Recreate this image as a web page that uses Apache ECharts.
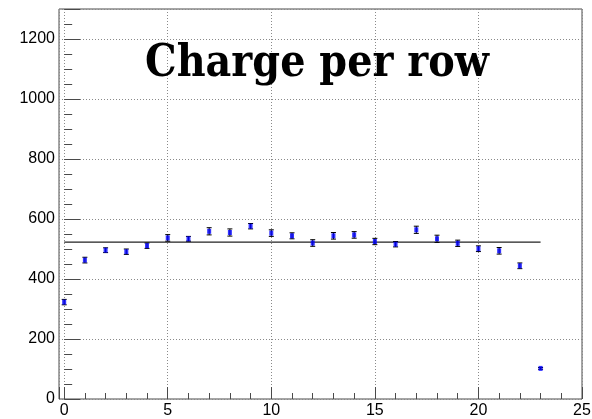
<!DOCTYPE html>
<html>
<head>
<meta charset="utf-8">
<script src="https://cdn.jsdelivr.net/npm/echarts@6/dist/echarts.min.js"></script>
<style>
  html, body { margin: 0; padding: 0; background: #fff; }
  #chart { width: 592px; height: 419px; }
</style>
</head>
<body>
<div id="chart"></div>
<script>
// Row index along the detector
const rows = [0, 1, 2, 3, 4, 5, 6, 7, 8, 9, 10, 11, 12, 13, 14, 15, 16, 17, 18, 19, 20, 21, 22, 23];
// Mean charge collected in each row
const charge = [323, 463, 496, 491, 511, 537, 534, 559, 555, 576, 553, 544,
                520, 544, 547, 525, 516, 564, 534, 519, 501, 494, 444, 102];
// Statistical uncertainty on each row's charge
const chargeErr = [9, 9.5, 8, 9, 9, 11, 8, 12, 12, 9, 11, 10,
                   11, 11, 11, 10.5, 9, 12, 12, 10.5, 9.5, 11, 9.5, 3];
// Constant (pol0) fit and the row range it covers
const fitValue = 523;
const fitRange = [0, 23];
// Axis tick labels
const xTickLabels = ['0', '5', '10', '15', '20', '25'];
const yTickLabels = ['0', '200', '400', '600', '800', '1000', '1200'];

const points = rows.map((r, i) => [r, charge[i], chargeErr[i]]);
const fitLine = fitRange.map(r => [r, fitValue]);

const labelFont = { fontFamily: 'Liberation Sans', fontSize: 16, color: '#000' };
const frameColor = '#4a4a4a';
const gridLine = { color: '#8a8a8a', width: 1, type: [1, 2] };

// Title in a slab serif face, narrowed to fit its box
const titleText = 'Charge per row';
const titleFamily = 'DejaVu Serif';
const titleSize = 45;
const titleWidth = 344;
const measure = document.createElement('canvas').getContext('2d');
measure.font = 'bold ' + titleSize + 'px "' + titleFamily + '"';
const titleScaleX = titleWidth / measure.measureText(titleText).width;

const chart = echarts.init(document.getElementById('chart'), null, { renderer: 'canvas' });

chart.setOption({
  animation: false,
  backgroundColor: '#fff',
  grid: {
    left: 59, right: 10, top: 9, bottom: 20,
    show: true, borderColor: frameColor, borderWidth: 1,
    containLabel: false, outerBoundsMode: 'none'
  },
  xAxis: {
    type: 'value', min: -0.25, max: 25, splitNumber: 5,
    axisLine: { show: false },
    axisTick: { show: true, inside: true, length: 12, lineStyle: { color: frameColor } },
    minorTick: { show: true, splitNumber: 5, length: 6, lineStyle: { color: frameColor } },
    splitLine: { show: true, lineStyle: gridLine },
    minorSplitLine: { show: false },
    axisLabel: Object.assign({
      showMinLabel: false, margin: 4,
      formatter: v => xTickLabels.includes(String(v)) ? String(v) : ''
    }, labelFont)
  },
  yAxis: {
    type: 'value', min: 0, max: 1300, interval: 200,
    axisLine: { show: false },
    axisTick: { show: true, inside: true, length: 16, lineStyle: { color: frameColor } },
    minorTick: { show: true, splitNumber: 4, length: 8, lineStyle: { color: frameColor } },
    splitLine: { show: true, lineStyle: gridLine },
    minorSplitLine: { show: false },
    axisLabel: Object.assign({
      showMaxLabel: false, margin: 4,
      formatter: v => yTickLabels.includes(String(v)) ? String(v) : ''
    }, labelFont)
  },
  graphic: [{
    type: 'text',
    x: 145, y: 64, scaleX: titleScaleX,
    z: 100,
    style: {
      text: titleText,
      fontFamily: titleFamily,
      fontWeight: 'bold',
      fontSize: titleSize,
      fill: '#000',
      textAlign: 'left',
      textVerticalAlign: 'middle'
    }
  }],
  series: [
    {
      name: 'fit',
      type: 'line',
      data: fitLine,
      showSymbol: false,
      lineStyle: { color: '#222', width: 1.2 },
      z: 2
    },
    {
      name: 'errors',
      type: 'custom',
      data: points,
      renderItem: (params, api) => {
        const x = api.value(0), y = api.value(1), e = api.value(2);
        const hi = api.coord([x, y + e]);
        const lo = api.coord([x, y - e]);
        const cap = 2.5;
        const style = { stroke: '#000', lineWidth: 1 };
        return {
          type: 'group',
          children: [
            { type: 'line', shape: { x1: hi[0], y1: hi[1], x2: lo[0], y2: lo[1] }, style },
            { type: 'line', shape: { x1: hi[0] - cap, y1: hi[1], x2: hi[0] + cap, y2: hi[1] }, style },
            { type: 'line', shape: { x1: lo[0] - cap, y1: lo[1], x2: lo[0] + cap, y2: lo[1] }, style }
          ]
        };
      },
      z: 3
    },
    {
      name: 'charge',
      type: 'scatter',
      data: points.map(p => [p[0], p[1]]),
      symbol: 'rect',
      symbolSize: [4, 5],
      itemStyle: { color: '#0000ff' },
      z: 4
    }
  ]
});
</script>
</body>
</html>
